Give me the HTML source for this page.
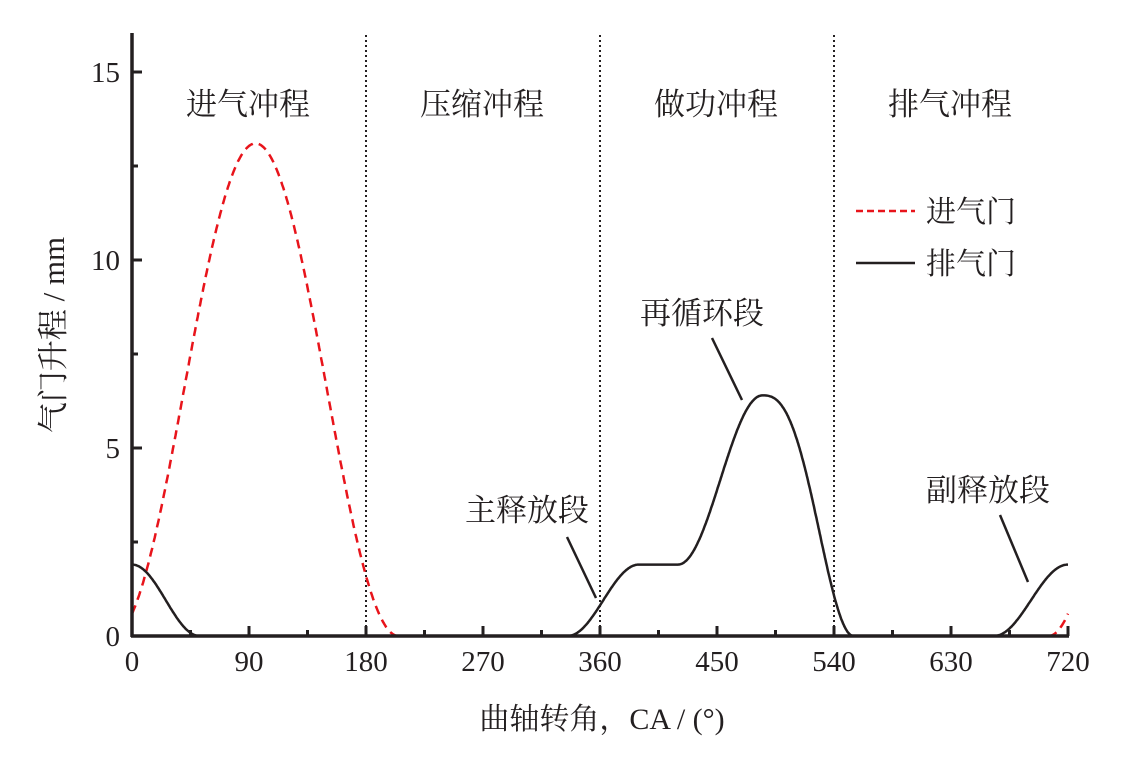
<!DOCTYPE html>
<html><head><meta charset="utf-8"><style>
html,body{margin:0;padding:0;background:#fff;}
svg text{font-family:"Liberation Serif","Noto Serif CJK SC","Noto Sans CJK SC",serif;fill:#231f20;}
</style></head><body>
<svg id="s" width="1146" height="757" viewBox="0 0 1146 757" xmlns="http://www.w3.org/2000/svg">
<g stroke="#231f20" stroke-width="2" stroke-dasharray="2,3">
<line x1="366" y1="35" x2="366" y2="636"/>
<line x1="600" y1="35" x2="600" y2="636"/>
<line x1="834" y1="35" x2="834" y2="636"/>
</g>
<path id="intake" fill="none" stroke="#e8141b" stroke-width="2.5" stroke-dasharray="9,6"/>
<path id="intake2" fill="none" stroke="#e8141b" stroke-width="2.5" stroke-dasharray="9,6"/>
<path id="exh" fill="none" stroke="#231f20" stroke-width="2.5"/>
<g stroke="#231f20" stroke-width="3.5" fill="none">
<line x1="132" y1="33" x2="132" y2="637"/>
<line x1="131" y1="636" x2="1069" y2="636"/>
</g>
<g id="ticks" stroke="#231f20" stroke-width="3"></g>
<g font-size="29" text-anchor="end" id="yl">
<text x="120" y="82">15</text><text x="120" y="270">10</text><text x="120" y="458">5</text><text x="120" y="646">0</text>
</g>
<g font-size="29" text-anchor="middle">
<text x="132" y="671">0</text><text x="249" y="671">90</text><text x="366" y="671">180</text><text x="483" y="671">270</text><text x="600" y="671">360</text><text x="717" y="671">450</text><text x="834" y="671">540</text><text x="951" y="671">630</text><text x="1068" y="671">720</text>
</g>
<g font-size="31" text-anchor="middle">
<text x="248" y="115">进气冲程</text><text x="482" y="115">压缩冲程</text><text x="716" y="115">做功冲程</text><text x="950" y="115">排气冲程</text>
</g>
<line x1="856" y1="211" x2="915" y2="211" stroke="#e8141b" stroke-width="2.5" stroke-dasharray="7,4"/>
<line x1="856" y1="263" x2="915" y2="263" stroke="#231f20" stroke-width="2.5"/>
<g font-size="30"><text x="926" y="222">进气门</text><text x="926" y="274">排气门</text></g>
<g font-size="31" text-anchor="middle">
<text x="702" y="324">再循环段</text><text x="527" y="521">主释放段</text><text x="988" y="501">副释放段</text>
</g>
<g stroke="#231f20" stroke-width="2.5">
<line x1="712" y1="338" x2="742" y2="400"/>
<line x1="567" y1="537" x2="596" y2="598"/>
<line x1="1000" y1="515" x2="1028" y2="582"/>
</g>
<text x="602" y="729" font-size="30" text-anchor="middle">曲轴转角，CA / (°)</text>
<text transform="translate(64,335) rotate(-90)" font-size="31" text-anchor="middle">气门升程 / mm</text>
</svg>
<script>
var X=d=>132+d*1.3, Y=v=>636-v*37.6;
function path(f,a,b){var s="";for(var d=a;d<=b+1e-9;d+=0.5){s+=(s?"L":"M")+X(d).toFixed(1)+","+Y(f(d)).toFixed(1);}return s;}
function intake(d){var t=d+15;if(t<0||t>220)return 0;return 13.1*(1-Math.cos(2*Math.PI*t/220))/2;}
document.getElementById("intake").setAttribute("d",path(intake,0,205));
document.getElementById("intake2").setAttribute("d",path(d=>intake(d-720),705,720));
function ex(d){
 if(d<=52)return 1.9*(1+Math.cos(Math.PI*d/52))/2;
 if(d<335)return 0;
 if(d<=390)return 1.9*(1-Math.cos(Math.PI*(d-335)/55))/2;
 if(d<=420)return 1.9;
 if(d<=485)return 1.9+4.5*(1-Math.cos(Math.PI*(d-420)/65))/2;
 if(d<=555){var t=(d-485)/70;t=Math.pow(t,1.3);return 6.4*(1+Math.cos(Math.PI*t))/2;}
 if(d<663)return 0;
 return 1.9*(1-Math.cos(Math.PI*(d-663)/57))/2;
}
document.getElementById("exh").setAttribute("d",path(ex,0,720));
var g=document.getElementById("ticks"),h="";
for(var d=0;d<=720;d+=45){var L=(d%90==0)?10:6;if(d==0)continue;h+='<line x1="'+X(d)+'" y1="636" x2="'+X(d)+'" y2="'+(636-L)+'"/>';}
for(var v=2.5;v<=15.1;v+=2.5){var L=(v%5==0)?10:6;h+='<line x1="132" y1="'+Y(v)+'" x2="'+(132+L)+'" y2="'+Y(v)+'"/>';}
g.innerHTML=h;
</script>
</body></html>
